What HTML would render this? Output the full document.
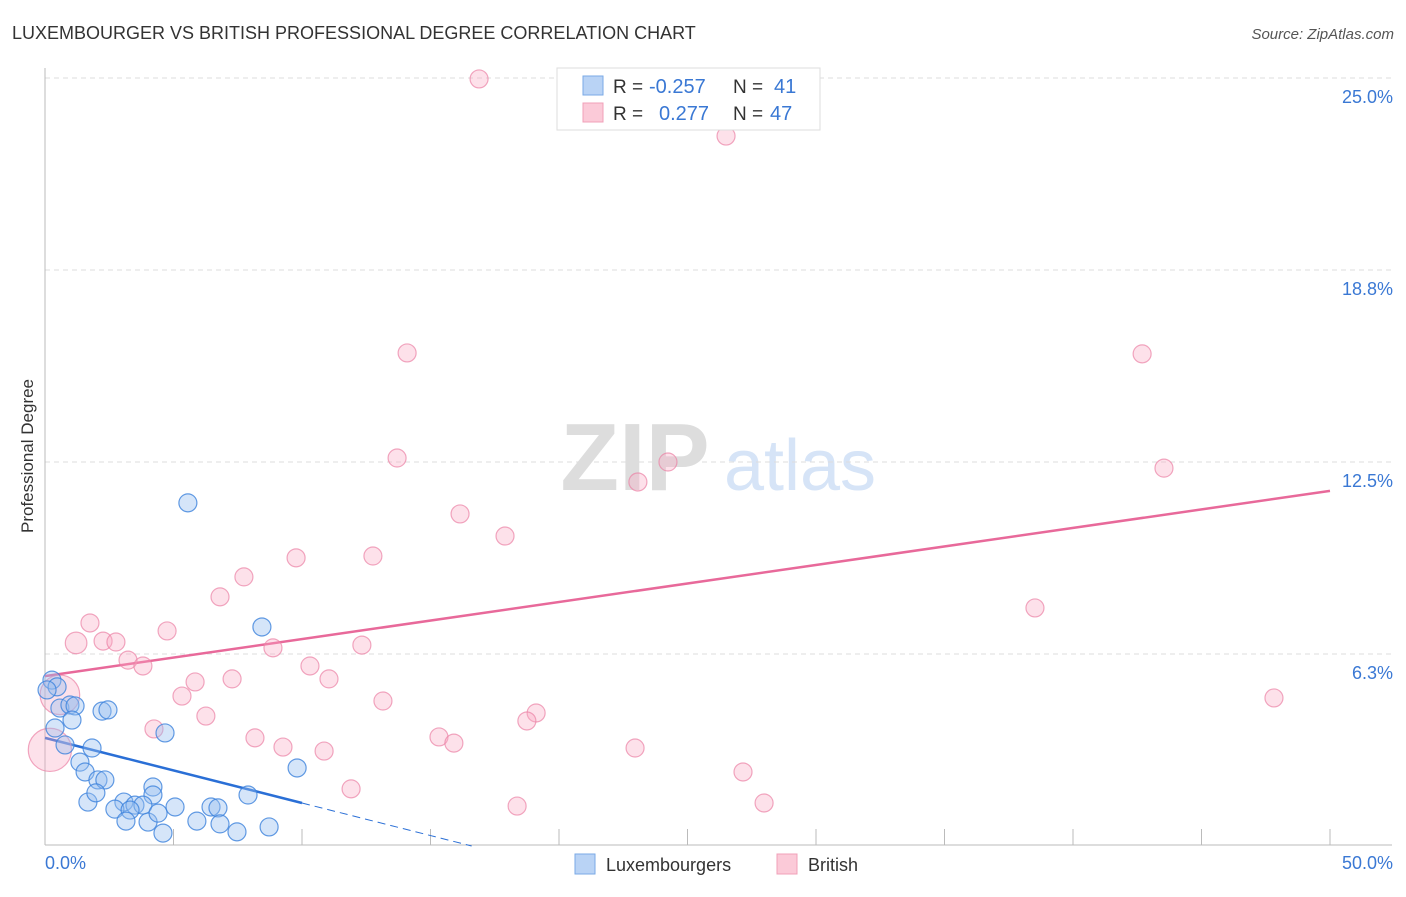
<!DOCTYPE html>
<html><head><meta charset="utf-8"><style>
body{margin:0;background:#fff;font-family:"Liberation Sans",sans-serif;}
svg text{font-family:"Liberation Sans",sans-serif;}
</style></head><body>
<svg id="chart" width="1406" height="892">
<text x="12" y="39" font-size="18" fill="#333">LUXEMBOURGER VS BRITISH PROFESSIONAL DEGREE CORRELATION CHART</text>
<text x="1394" y="39" font-size="15" fill="#555" font-style="italic" text-anchor="end">Source: ZipAtlas.com</text>
<text transform="translate(33,456) rotate(-90)" font-size="17" fill="#333" text-anchor="middle">Professional Degree</text>
<g>
<text x="635" y="490" font-size="96" fill="#ddd" font-family="Liberation Serif" text-anchor="middle" font-weight="bold">ZIP</text>
<text x="800" y="490" font-size="72" fill="#d6e4f7" text-anchor="middle">atlas</text>
</g>
<g id="grid"></g><g id="axes"></g><g id="lines"></g><g id="pts"></g>
<g>
<rect x="557" y="68" width="263" height="62" fill="#fff" stroke="#ddd"/>
<rect x="583" y="76" width="20" height="19" fill="#b9d3f5" stroke="#7aa9e6"/>
<rect x="583" y="103" width="20" height="19" fill="#fbcad8" stroke="#f0a0b8"/>
<text x="613" y="93" font-size="19" fill="#333">R =</text><text x="649" y="93" font-size="20" fill="#3a78d4">-0.257</text>
<text x="733" y="93" font-size="19" fill="#333">N =</text><text x="774" y="93" font-size="20" fill="#3a78d4">41</text>
<text x="613" y="120" font-size="19" fill="#333">R =</text><text x="659" y="120" font-size="20" fill="#3a78d4">0.277</text>
<text x="733" y="120" font-size="19" fill="#333">N =</text><text x="770" y="120" font-size="20" fill="#3a78d4">47</text>
</g>
<g>
<rect x="575" y="854" width="20" height="20" fill="#b9d3f5" stroke="#7aa9e6"/>
<text x="606" y="871" font-size="18" fill="#333">Luxembourgers</text>
<rect x="777" y="854" width="20" height="20" fill="#fbcad8" stroke="#f0a0b8"/>
<text x="808" y="871" font-size="18" fill="#333">British</text>
</g>
</svg>
<script>
const yTicks=[6.25,12.5,18.75,25];
const yTickLabels=["6.3%","12.5%","18.8%","25.0%"];
const xTickLabels=["0.0%","50.0%"];
const luxX=[0.27,0.47,0.08,0.58,0.97,1.17,1.05,2.22,2.45,0.39,0.78,1.83,1.36,1.56,2.06,2.33,4.67,4.20,4.20,3.07,2.72,1.67,1.98,3.50,3.81,3.31,3.15,4.01,4.40,4.59,5.06,5.91,6.46,6.73,6.81,7.47,7.90,8.72,9.81,8.44,5.56];
const luxY=[5.40,5.18,5.08,4.49,4.59,4.56,4.10,4.39,4.43,3.84,3.29,3.19,2.73,2.41,2.15,2.15,3.68,1.92,1.66,1.43,1.20,1.43,1.73,1.33,1.33,1.17,0.81,0.78,1.07,0.42,1.27,0.81,1.27,1.24,0.72,0.46,1.66,0.62,2.54,7.13,11.17];
const briX=[16.89,26.50,14.09,42.69,13.70,43.54,24.24,23.07,16.15,17.90,9.77,12.76,7.74,6.81,38.52,1.75,1.21,2.26,2.76,4.75,3.23,3.81,8.87,12.33,10.31,11.05,5.84,7.28,5.33,47.82,13.15,6.26,19.11,18.75,4.24,8.17,9.26,15.33,15.91,10.86,22.96,27.16,11.91,18.37,27.98,0.58,0.19];
const briY=[24.97,23.11,16.05,16.02,12.63,12.30,12.50,11.85,10.81,10.09,9.38,9.44,8.76,8.11,7.75,7.26,6.61,6.67,6.64,7.00,6.05,5.86,6.45,6.54,5.86,5.44,5.34,5.44,4.88,4.82,4.72,4.23,4.33,4.07,3.81,3.52,3.22,3.55,3.35,3.09,3.19,2.41,1.86,1.30,1.40,4.92,3.13];
const briSize=[1,1,1,1,1,1,1,1,1,1,1,1,1,1,1,1,1.2,1,1,1,1,1,1,1,1,1,1,1,1,1,1,1,1,1,1,1,1,1,1,1,1,1,1,1,1,2.2,2.4];
const luxTrend=[3.52,-0.212];
const briTrend=[5.53,0.1206];
const xs=v=>45+v*25.7, ys=v=>846-v*30.72;
const NS="http://www.w3.org/2000/svg";
function mk(p,t,a){const e=document.createElementNS(NS,t);for(const k in a)e.setAttribute(k,a[k]);document.getElementById(p).appendChild(e);return e;}
yTicks.forEach((t,i)=>{
 const l=mk('grid','line',{x1:45,x2:1392,y1:ys(t),y2:ys(t),stroke:'#ddd','stroke-dasharray':'5,4'});
 
 
 const tx=mk('grid','text',{x:1393,y:ys(t)+25,'font-size':18,fill:'#3a78d4','text-anchor':'end'});tx.textContent=yTickLabels[i];
 
 
});
mk('axes','line',{x1:45,x2:45,y1:68,y2:845,stroke:'#bbb'});
mk('axes','line',{x1:45,x2:1392,y1:845,y2:845,stroke:'#bbb'});
for(let i=0;i<=10;i++){mk('axes','line',{x1:xs(i*5),x2:xs(i*5),y1:829,y2:845,stroke:'#bbb'});}
const xl0=mk('axes','text',{x:45,y:869,'font-size':18,fill:'#3a78d4'});xl0.textContent=xTickLabels[0];


const xl1=mk('axes','text',{x:1393,y:869,'font-size':18,fill:'#3a78d4','text-anchor':'end'});xl1.textContent=xTickLabels[1];


function pts(X,Y,S,fill,stroke,name){X.forEach((x,i)=>{const c=mk('pts','circle',{cx:xs(x),cy:ys(Y[i]),r:9*(S?S[i]:1),fill:fill,stroke:stroke,'stroke-width':1.2});
 
 });}
pts(briX,briY,briSize,'rgba(248,170,195,0.35)','rgba(235,130,165,0.7)','british-point');
pts(luxX,luxY,null,'rgba(150,190,240,0.4)','rgba(60,130,220,0.8)','luxembourger-point');
const bl=mk('lines','line',{x1:xs(0),y1:ys(briTrend[0]),x2:xs(50),y2:ys(briTrend[0]+briTrend[1]*50),stroke:'#e8699a','stroke-width':2.5});


const ll=mk('lines','line',{x1:xs(0),y1:ys(luxTrend[0]),x2:xs(10),y2:ys(luxTrend[0]+luxTrend[1]*10),stroke:'#2a6fd6','stroke-width':2.5});


const ld=mk('lines','line',{x1:xs(10),y1:ys(luxTrend[0]+luxTrend[1]*10),x2:xs(16.6),y2:ys(luxTrend[0]+luxTrend[1]*16.6),stroke:'#2a6fd6','stroke-width':1,'stroke-dasharray':'8,5'});


</script>
</body></html>
